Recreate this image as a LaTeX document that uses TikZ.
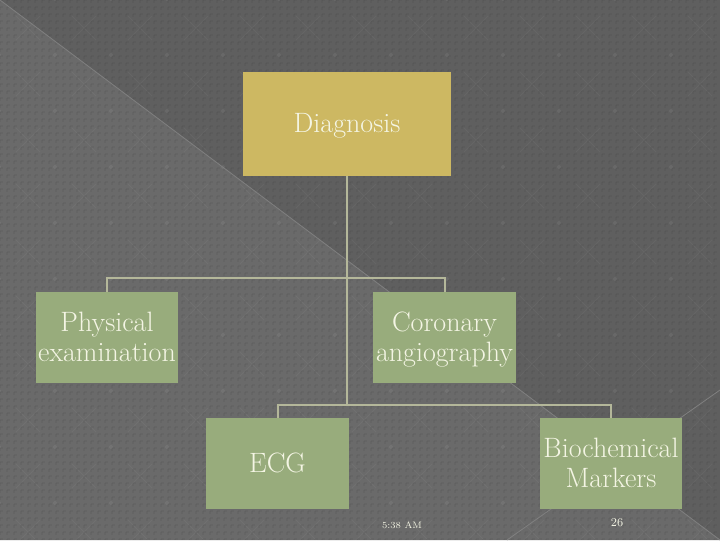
\documentclass[tikz,border=0pt]{standalone}
\definecolor{bgdark}{HTML}{5F5F5F}
\definecolor{bglight}{HTML}{6A6A6A}
\definecolor{gold}{HTML}{CDB862}
\definecolor{sage}{HTML}{98AC7C}
\definecolor{linkc}{HTML}{B4B79A}
\definecolor{ink}{HTML}{F4F5E4}
\newcommand{\toplift}{\rule{0pt}{20.25pt}}
\newcommand{\oneline}{\rule[-7pt]{0pt}{27pt}}
\tikzset{
  box/.style={fill=sage,draw=none,inner sep=0pt,text=ink,align=center,font=\fontsize{21}{22.5}\selectfont},
  topbox/.style={box,fill=gold},
  linkline/.style={draw=linkc,line width=1.5pt},
  foot/.style={text=ink,inner sep=0pt},
  motif/.style={draw=white,opacity=0.045,line width=0.75pt},
  texture/.style={draw=black,opacity=0.04,line width=2pt,dash pattern=on 2pt off 3.25pt}
}
\begin{document}
\begin{tikzpicture}[x=0.75pt,y=-0.75pt]
\useasboundingbox (0,0) rectangle (720,540);
\fill[bgdark] (0,0) rectangle (720,540);
\fill[bglight] (0,0) -- (720,540) -- (0,540) -- cycle;
\foreach \gy in {0,7,...,540} {\draw[texture] (0,\gy) -- (720,\gy);}
\foreach \gx in {0,7,...,720} {\draw[texture] (\gx,0) -- (\gx,540);}
\foreach \gx in {0,56,...,700} \foreach \gy in {0,56,...,530} {
  \draw[motif] (\gx+16,\gy+16) -- (\gx+40,\gy+40) (\gx+16,\gy+40) -- (\gx+40,\gy+16);
  \fill[white,opacity=0.06] (\gx-1,\gy-1) circle (2);
}
\draw[bglight!85!white,line width=0.6pt] (0,0) -- (720,540);
\draw[bglight!85!white,line width=0.6pt] (720,390) -- (507,540);
\node[topbox,minimum width=156pt,minimum height=78pt] (d) at (347,124) {\oneline Diagnosis};
\node[box,minimum width=106.5pt,minimum height=68.25pt] (p) at (107,337.5) {\toplift Physical\\examination\strut};
\node[box,minimum width=107.25pt,minimum height=68.25pt] (c) at (444.5,337.5) {\toplift Coronary\\angiography\strut};
\node[box,minimum width=107.25pt,minimum height=68.25pt] (e) at (277.5,463.5) {\oneline ECG};
\node[box,minimum width=106.5pt,minimum height=68.25pt] (b) at (611,463.5) {\toplift Biochemical\\Markers\strut};
\coordinate (bus1) at (347,278);
\coordinate (bus2) at (347,405);
\draw[linkline] (p.north) |- (bus1) -| (c.north);
\draw[linkline] (e.north) |- (bus2) -| (b.north);
\draw[linkline] (d.south) -- (bus2);
\node[foot,font=\fontsize{7}{9}\selectfont] (t) at (402,525) {5:38 AM};
\node[foot,font=\fontsize{9}{10}\selectfont] (n) at (617,523) {26};
\end{tikzpicture}
\end{document}
